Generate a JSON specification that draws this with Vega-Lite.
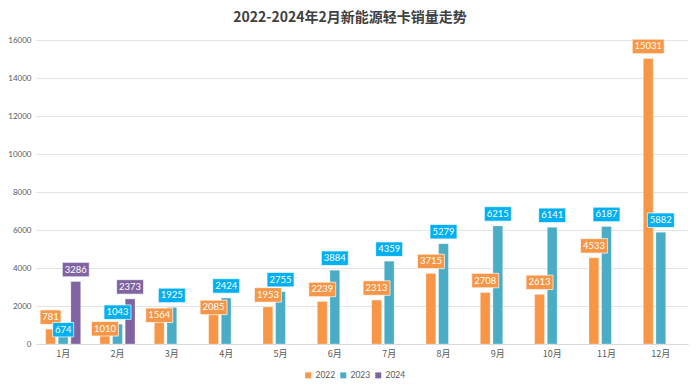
{
  "$schema": "https://vega.github.io/schema/vega-lite/v6.json",
  "width": 652,
  "height": 304,
  "autosize": {"type": "none"},
  "padding": {"left": 36, "top": 40, "right": 12, "bottom": 48},
  "background": "#FFFFFF",
  "title": {
    "text": "2022-2024年2月新能源轻卡销量走势",
    "font": "Noto Sans CJK SC",
    "fontSize": 14,
    "fontWeight": "bold",
    "color": "#404040",
    "anchor": "middle",
    "offset": 11,
    "dx": -12
  },
  "config": {
    "view": {"stroke": null},
    "font": "Lato"
  },
  "data": {
    "values": [
      {"month": "1月", "year": "2022", "sales": 781},
      {"month": "2月", "year": "2022", "sales": 1010},
      {"month": "3月", "year": "2022", "sales": 1564},
      {"month": "4月", "year": "2022", "sales": 2085},
      {"month": "5月", "year": "2022", "sales": 1953},
      {"month": "6月", "year": "2022", "sales": 2239},
      {"month": "7月", "year": "2022", "sales": 2313},
      {"month": "8月", "year": "2022", "sales": 3715},
      {"month": "9月", "year": "2022", "sales": 2708},
      {"month": "10月", "year": "2022", "sales": 2613},
      {"month": "11月", "year": "2022", "sales": 4533},
      {"month": "12月", "year": "2022", "sales": 15031},
      {"month": "1月", "year": "2023", "sales": 674},
      {"month": "2月", "year": "2023", "sales": 1043},
      {"month": "3月", "year": "2023", "sales": 1925},
      {"month": "4月", "year": "2023", "sales": 2424},
      {"month": "5月", "year": "2023", "sales": 2755},
      {"month": "6月", "year": "2023", "sales": 3884},
      {"month": "7月", "year": "2023", "sales": 4359},
      {"month": "8月", "year": "2023", "sales": 5279},
      {"month": "9月", "year": "2023", "sales": 6215},
      {"month": "10月", "year": "2023", "sales": 6141},
      {"month": "11月", "year": "2023", "sales": 6187},
      {"month": "12月", "year": "2023", "sales": 5882},
      {"month": "1月", "year": "2024", "sales": 3286},
      {"month": "2月", "year": "2024", "sales": 2373}
    ]
  },
  "encoding": {
    "x": {
      "field": "month",
      "type": "nominal",
      "sort": ["1月", "2月", "3月", "4月", "5月", "6月", "7月", "8月", "9月", "10月", "11月", "12月"],
      "scale": {"paddingInner": 0.355, "paddingOuter": 0.1775},
      "axis": {
        "title": null,
        "labelAngle": 0,
        "labelFont": "Noto Sans CJK SC",
        "labelFontSize": 9,
        "labelColor": "#595959",
        "labelPadding": 5,
        "ticks": false,
        "domainColor": "#D9D9D9",
        "domainWidth": 1,
        "grid": false
      }
    },
    "xOffset": {
      "field": "year",
      "type": "nominal",
      "scale": {"domain": ["2022", "2023", "2024"], "paddingInner": 0.22}
    },
    "y": {
      "field": "sales",
      "type": "quantitative",
      "scale": {"domain": [0, 16000], "nice": false},
      "axis": {
        "title": null,
        "values": [0, 2000, 4000, 6000, 8000, 10000, 12000, 14000, 16000],
        "format": "d",
        "labelFont": "Lato",
        "labelFontSize": 8,
        "labelColor": "#595959",
        "labelPadding": 5,
        "ticks": false,
        "domain": false,
        "gridColor": "#E3E3E3",
        "gridWidth": 1
      }
    }
  },
  "layer": [
    {
      "mark": {"type": "bar", "stroke": "#FFFFFF", "strokeWidth": 0.5, "strokeOpacity": 0.6},
      "encoding": {
        "color": {
          "field": "year",
          "type": "nominal",
          "scale": {"domain": ["2022", "2023", "2024"], "range": ["#F79646", "#4BACC6", "#8064A2"]},
          "legend": {
            "title": null,
            "orient": "none",
            "direction": "horizontal",
            "legendX": 268,
            "legendY": 331,
            "symbolType": "square",
            "symbolSize": 36,
            "symbolStrokeWidth": 0,
            "labelFont": "Lato",
            "labelFontSize": 8.5,
            "labelColor": "#595959",
            "labelOffset": 3,
            "columnPadding": 3,
            "padding": 0
          }
        }
      }
    },
    {
      "mark": {
        "type": "point",
        "filled": true,
        "opacity": 1,
        "stroke": "#FFFFFF",
        "strokeOpacity": 0.7,
        "strokeWidth": 1,
        "yOffset": {"expr": "datum.year=='2023'&&datum.month=='1月'?-1.5:datum.year=='2022'&&datum.month=='2月'?4:datum.year=='2022'&&datum.month=='3月'?1:datum.year=='2022'&&datum.month=='4月'?3:-12"}
      },
      "encoding": {
        "fill": {
          "field": "year",
          "type": "nominal",
          "scale": {"domain": ["2022", "2023", "2024"], "range": ["#F79646", "#00B0F0", "#8064A2"]},
          "legend": null
        },
        "shape": {
          "condition": [
            {"test": "datum.sales < 1000", "value": "M-1,-0.69L1,-0.69L1,0.69L-1,0.69Z"},
            {"test": "datum.sales < 10000", "value": "M-1,-0.537L1,-0.537L1,0.537L-1,0.537Z"}
          ],
          "value": "M-1,-0.453L1,-0.453L1,0.453L-1,0.453Z"
        },
        "size": {
          "condition": [
            {"test": "datum.sales < 1000", "value": 441},
            {"test": "datum.sales < 10000", "value": 729}
          ],
          "value": 1024
        }
      }
    },
    {
      "mark": {
        "type": "text",
        "color": "#FFFFFF",
        "font": "Lato",
        "fontSize": 9.5,
        "baseline": "middle",
        "align": "center",
        "yOffset": {"expr": "datum.year=='2023'&&datum.month=='1月'?-1.5:datum.year=='2022'&&datum.month=='2月'?4:datum.year=='2022'&&datum.month=='3月'?1:datum.year=='2022'&&datum.month=='4月'?3:-12"}
      },
      "encoding": {
        "text": {"field": "sales", "type": "quantitative", "format": "d"}
      }
    }
  ]
}
